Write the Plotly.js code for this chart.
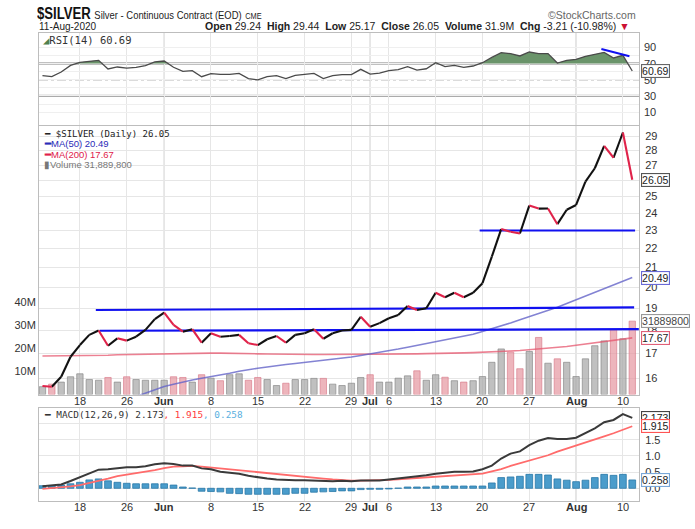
<!DOCTYPE html>
<html><head><meta charset="utf-8">
<script src="https://cdn.plot.ly/plotly-3.0.1.min.js"></script>
<style>
html,body{margin:0;padding:0;background:#fff}
#wrap{position:relative;width:695px;height:529px}
#chart{width:695px;height:529px}
#hdr{position:absolute;left:37px;top:4px;height:20px;line-height:20px;white-space:nowrap;transform:scaleX(0.82);transform-origin:0 0;font-family:'Liberation Sans',Arial,sans-serif;color:#111;z-index:5}
#hdr .t{font-weight:bold;font-size:16px}
#hdr .s{font-size:11.5px;color:#222}
#hdr .c{font-size:9px;color:#222}
</style>
</head><body><div id="wrap"><div id="chart"></div>
<div id="hdr"><span class="t">$SILVER</span> <span class="s">Silver - Continuous Contract (EOD)</span> <span class="c">CME</span></div></div>
<script>
// ---------------- DATA ----------------
const dates = [
 '2020-05-12','2020-05-13','2020-05-14','2020-05-15','2020-05-18','2020-05-19','2020-05-20','2020-05-21','2020-05-22','2020-05-26','2020-05-27','2020-05-28','2020-05-29',
 '2020-06-01','2020-06-02','2020-06-03','2020-06-04','2020-06-05','2020-06-08','2020-06-09','2020-06-10','2020-06-11','2020-06-12','2020-06-15','2020-06-16','2020-06-17','2020-06-18','2020-06-19','2020-06-22','2020-06-23','2020-06-24','2020-06-25','2020-06-26','2020-06-29','2020-06-30',
 '2020-07-01','2020-07-02','2020-07-06','2020-07-07','2020-07-08','2020-07-09','2020-07-10','2020-07-13','2020-07-14','2020-07-15','2020-07-16','2020-07-17','2020-07-20','2020-07-21','2020-07-22','2020-07-23','2020-07-24','2020-07-27','2020-07-28','2020-07-29','2020-07-30','2020-07-31',
 '2020-08-03','2020-08-04','2020-08-05','2020-08-06','2020-08-07','2020-08-10','2020-08-11'];
const closePrice = [15.70,15.67,16.06,16.87,17.36,17.80,17.99,17.33,17.65,17.55,17.72,18.02,18.50,
 18.80,18.24,17.94,18.05,17.46,17.87,17.72,17.75,17.80,17.44,17.36,17.61,17.75,17.46,17.80,17.87,18.05,17.63,17.87,17.99,18.02,18.61,
 18.16,18.32,18.54,18.69,19.11,18.92,19.00,19.74,19.52,19.74,19.52,19.74,20.21,21.57,23.08,22.93,22.83,24.45,24.27,24.28,23.36,24.20,
 24.49,25.94,26.80,28.31,27.50,29.26,26.05];
const volumeM = [3.4,4.5,5.4,7.7,9.0,6.5,6.2,7.4,5.4,7.7,6.5,6.2,6.2,
 6.2,7.7,7.4,5.4,8.6,7.1,6.0,8.6,9.0,6.2,7.4,6.5,3.9,4.9,6.5,6.5,7.0,7.0,4.5,3.9,4.9,7.4,
 8.6,5.4,5.4,7.1,8.1,10.3,6.2,8.6,7.5,6.0,5.4,6.0,7.8,14.0,19.8,18.4,11.2,18.7,24.8,13.6,15.5,14.0,
 7.8,15.5,21.2,23.3,28.1,24.2,31.89];
const ma50 = [null,null,null,null,null,null,null,null,null,null,15.30,15.42,15.56,
 15.68,15.77,15.86,15.93,16.00,16.06,16.13,16.20,16.28,16.35,16.40,16.45,16.51,16.55,16.59,16.63,16.67,16.71,16.75,16.80,16.86,16.92,
 16.98,17.05,17.11,17.19,17.27,17.35,17.43,17.51,17.59,17.67,17.75,17.83,17.95,18.07,18.20,18.33,18.47,18.61,18.74,18.88,19.05,19.22,
 19.40,19.57,19.74,19.92,20.10,20.30,20.49];
const ma200 = [16.90,16.90,16.91,16.91,16.92,16.92,16.93,16.93,16.95,16.96,16.97,16.98,16.99,
 17.00,17.00,17.01,17.01,17.02,17.02,17.02,17.02,17.01,17.00,16.99,16.98,16.97,16.97,16.96,16.96,16.96,16.96,16.96,16.96,16.96,16.96,
 16.97,16.97,16.97,16.98,16.98,16.99,17.00,17.00,17.01,17.02,17.03,17.04,17.05,17.07,17.09,17.11,17.13,17.16,17.19,17.22,17.26,17.30,
 17.35,17.40,17.46,17.51,17.56,17.62,17.67];
const rsi14 = [55.0,53.7,59.5,67.7,71.4,72.7,73.9,63.2,65.7,64.4,65.3,67.3,71.9,
 73.1,65.3,60.3,61.1,53.7,57.4,56.6,56.6,57.8,51.3,49.7,53.7,55.0,51.3,55.4,56.6,57.8,51.3,55.0,56.2,56.2,62.8,
 57.0,58.2,61.1,62.3,66.1,61.9,63.5,71.0,66.1,67.7,65.3,66.9,71.0,77.6,83.4,82.2,79.3,84.2,82.2,82.2,70.6,73.9,
 75.1,78.9,80.9,83.8,76.8,80.1,60.69];
const macdLine = [0.06,0.08,0.12,0.225,0.35,0.46,0.575,0.585,0.615,0.647,0.647,0.678,0.74,
 0.77,0.75,0.70,0.70,0.615,0.585,0.513,0.48,0.45,0.386,0.335,0.30,0.27,0.25,0.25,0.25,0.24,0.22,0.22,0.23,0.22,0.24,
 0.24,0.24,0.27,0.30,0.335,0.365,0.40,0.45,0.48,0.51,0.51,0.52,0.59,0.70,0.92,1.07,1.14,1.33,1.47,1.55,1.52,1.52,
 1.56,1.71,1.85,2.04,2.11,2.29,2.173];
const signalLine = [-0.02,0.00,0.02,0.06,0.10,0.16,0.22,0.30,0.375,0.42,0.46,0.51,0.56,
 0.62,0.67,0.68,0.69,0.67,0.64,0.62,0.60,0.57,0.54,0.50,0.47,0.44,0.41,0.385,0.36,0.33,0.30,0.275,0.25,0.24,0.24,
 0.24,0.25,0.26,0.28,0.30,0.32,0.335,0.355,0.375,0.39,0.41,0.43,0.45,0.52,0.59,0.69,0.77,0.85,0.93,1.02,1.13,1.22,
 1.31,1.40,1.49,1.60,1.70,1.81,1.915];
const histogram = [0.08,0.08,0.10,0.14,0.185,0.26,0.29,0.23,0.185,0.155,0.14,0.14,0.14,
 0.14,0.10,0.04,0.01,-0.09,-0.10,-0.11,-0.155,-0.165,-0.185,-0.185,-0.185,-0.185,-0.185,-0.155,-0.155,-0.12,-0.11,-0.10,-0.08,-0.08,-0.04,
 -0.03,-0.03,-0.02,0.005,0.04,0.04,0.04,0.07,0.07,0.07,0.07,0.07,0.07,0.165,0.33,0.35,0.37,0.43,0.43,0.41,0.29,0.25,
 0.205,0.25,0.33,0.43,0.40,0.43,0.258];
const tickDates  = ['2020-05-18','2020-05-26','2020-06-01','2020-06-08','2020-06-15','2020-06-22','2020-06-29','2020-07-01','2020-07-06','2020-07-13','2020-07-20','2020-07-27','2020-08-03','2020-08-10'];
const tickLabels = ['18','26','<b>Jun</b>','8','15','22','29','<b>Jul</b>','6','13','20','27','<b>Aug</b>','10'];
const monthStarts = ['2020-06-01','2020-07-01','2020-08-03'];
const priceTicks = [16,17,18,19,20,21,22,23,24,25,26,27,28,29];
const volTicks = [10,20,30,40];
const rsiTicks = [10,20,30,40,50,60,70,80,90];
const rsiLabelVals = [10,30,50,70,90];
const macdTicks = [0,0.5,1.0,1.5,2.0];
const macdLabels = ['0.0','0.5','1.0','1.5',''];
// drawn support lines (start index, start price, end index, end price)
const trendX0 = [5.7, 6.1, 46.7];
const trendY0 = [18.92, 17.98, 23.0];
const trendX1 = [63.2, 63.7, 63.3];
const trendY1 = [19.04, 18.05, 23.0];
const rsiTrendX = [59.7, 62.7];
const rsiTrendY = [88.0, 79.0];
const last = {close:26.05, ma50:20.49, ma200:17.67, vol:31.8898, rsi:60.69, macd:2.173, sig:1.915, hist:0.258};

// ---------------- BUILD ----------------
const W=695,H=529;
const fx = p => p/W, fy = p => 1-p/H;
const xi = dates.map((d,i)=>i);
const idx = d => dates.indexOf(d);
const tickIdx = tickDates.map(idx);
const XD=[fx(39),fx(639)];
const XR=[-0.37,63.72];

const bx=[],by=[],rx=[],ry=[];
for(let i=1;i<closePrice.length;i++){
  const up = closePrice[i]>=closePrice[i-1];
  const X = up?bx:rx, Y = up?by:ry;
  X.push(xi[i-1],xi[i],null); Y.push(closePrice[i-1],closePrice[i],null);
}
const isDown = i => i>0 && closePrice[i]<closePrice[i-1];
const volColors = volumeM.map((v,i)=> isDown(i) ? 'rgba(230,150,160,0.7)' : 'rgba(165,165,165,0.7)');
const volLines = volumeM.map((v,i)=> isDown(i) ? 'rgba(215,120,135,0.8)' : 'rgba(130,130,130,0.8)');

function clipAbove(xs,ys,lvl){
  const px=[],py=[];
  for(let i=0;i<ys.length;i++){
    if(i>0 && (ys[i-1]-lvl)*(ys[i]-lvl)<0){
      const t=(lvl-ys[i-1])/(ys[i]-ys[i-1]);
      px.push(xs[i-1]+t*(xs[i]-xs[i-1])); py.push(lvl);
    }
    px.push(xs[i]); py.push(Math.max(ys[i],lvl));
  }
  px.push(xs[xs.length-1],xs[0]); py.push(lvl,lvl);
  return {px,py};
}
const rf = clipAbove(xi,rsi14,70);

const traces = [
  {type:'bar',x:xi,y:volumeM,xaxis:'x',yaxis:'y',width:0.68,marker:{color:volColors,line:{color:volLines,width:0.8}}},
  {type:'scatter',mode:'lines',x:xi,y:ma200,xaxis:'x',yaxis:'y2',line:{color:'rgba(230,85,110,0.75)',width:1.6}},
  {type:'scatter',mode:'lines',x:xi,y:ma50,xaxis:'x',yaxis:'y2',line:{color:'rgba(100,100,200,0.8)',width:1.6}},
];
for(let k=0;k<trendX0.length;k++){
  traces.push({type:'scatter',mode:'lines',x:[trendX0[k],trendX1[k]],y:[trendY0[k],trendY1[k]],xaxis:'x',yaxis:'y2',line:{color:'#1010f0',width:2.2}});
}
traces.push(
  {type:'scatter',mode:'lines',x:bx,y:by,xaxis:'x',yaxis:'y2',line:{color:'#111',width:2.1},connectgaps:false},
  {type:'scatter',mode:'lines',x:rx,y:ry,xaxis:'x',yaxis:'y2',line:{color:'#e0234a',width:2.1},connectgaps:false},
  {type:'scatter',mode:'lines',x:rf.px,y:rf.py,xaxis:'x2',yaxis:'y3',fill:'toself',fillcolor:'#6a946a',line:{width:0,color:'rgba(0,0,0,0)'}},
  {type:'scatter',mode:'lines',x:xi,y:rsi14,xaxis:'x2',yaxis:'y3',line:{color:'#4a4a4a',width:1.3}},
  {type:'scatter',mode:'lines',x:rsiTrendX,y:rsiTrendY,xaxis:'x2',yaxis:'y3',line:{color:'#1010f0',width:2}},
  {type:'bar',x:xi,y:histogram,xaxis:'x3',yaxis:'y4',width:0.72,marker:{color:'#4a9ccb',line:{color:'#2a78a8',width:0.8}}},
  {type:'scatter',mode:'lines',x:xi,y:signalLine,xaxis:'x3',yaxis:'y4',line:{color:'#ff6b6b',width:1.8}},
  {type:'scatter',mode:'lines',x:xi,y:macdLine,xaxis:'x3',yaxis:'y4',line:{color:'#3a3a3a',width:2}}
);

const GRID='#e6e6e6', BORDER='#bdbdbd';
const sans='Liberation Sans, Arial, sans-serif';
const mono='DejaVu Sans Mono, Liberation Mono, monospace';
const tf = {family:sans,size:11,color:'#333'};
const xbase = {range:XR,domain:XD,tickmode:'array',tickvals:tickIdx,ticktext:tickLabels,showticklabels:false,showgrid:true,gridcolor:GRID,zeroline:false,showline:true,mirror:true,linecolor:BORDER,ticks:'',tickfont:tf,fixedrange:true};
const ybase = {showline:true,mirror:true,linecolor:BORDER,zeroline:false,ticks:'',tickfont:tf,gridcolor:GRID,fixedrange:true};

const shapes=[];
monthStarts.map(idx).forEach(m=>{
  [['x','y domain'],['x2','y3 domain'],['x3','y4 domain']].forEach(([xr,yr])=>{
    shapes.push({type:'line',xref:xr,yref:yr,x0:m,x1:m,y0:0,y1:1,line:{color:'#c2c2c2',width:1},layer:'below'});
  });
});
[[70,'#ababab',2.4,'solid'],[30,'#ababab',2.4,'solid'],[50,'#b8b8b8',1.4,'dashdot']].forEach(([v,c,w,d])=>{
  shapes.push({type:'line',xref:'paper',yref:'y3',x0:XD[0],x1:XD[1],y0:v,y1:v,line:{color:c,width:w,dash:d},layer:'below'});
});

function txt(x,y,text,font,xanchor){return {xref:'paper',yref:'paper',x:fx(x),y:fy(y),text,showarrow:false,xanchor:xanchor||'left',yanchor:'middle',font};}
function box(yref,y,text,border,color){return {xref:'paper',yref,x:fx(641),y,text,showarrow:false,xanchor:'left',yanchor:'middle',bgcolor:'#fff',bordercolor:border,borderwidth:1.1,borderpad:0,font:{family:sans,size:10.5,color:color||'#222'}};}

const annotations=[
  txt(638,15,'©StockCharts.com',{family:sans,size:10.5,color:'#666'},'right'),
  txt(37,26,'11-Aug-2020',{family:sans,size:10,color:'#222'}),
  txt(632,26,'<b>Open</b> 29.24  <b>High</b> 29.44  <b>Low</b> 25.17  <b>Close</b> 26.05  <b>Volume</b> 31.9M  <b>Chg</b> -3.21 (-10.98%) <span style="color:#cc1133">▼</span>',{family:sans,size:10.5,color:'#222'},'right'),
  txt(41,40,'<span style="color:#4f7f4f">◢</span>RSI(14) 60.69',{family:mono,size:10.5,color:'#333'}),
  txt(42,133.5,'<b>━</b> $SILVER (Daily) 26.05',{family:mono,size:9,color:'#222'}),
  txt(42,144,'<b>━</b>MA(50) 20.49',{family:sans,size:9.5,color:'#2b2bb8'}),
  txt(42,154,'<b>━</b>MA(200) 17.67',{family:sans,size:9.5,color:'#e0204a'}),
  txt(42,164,'▮Volume 31,889,800',{family:sans,size:9.5,color:'#777'}),
  txt(42,414,'<b>━</b> MACD(12,26,9) 2.173<span style="color:#ff3b3b">, 1.915</span><span style="color:#5ab0e0">, 0.258</span>',{family:mono,size:9.4,color:'#333'})
];
[400.5,507].forEach(py=>{
  tickIdx.forEach((t,k)=>annotations.push({xref:'x',yref:'paper',x:t,y:fy(py),text:tickLabels[k],showarrow:false,xanchor:'center',yanchor:'middle',font:tf}));
});
rsiLabelVals.forEach(v=>annotations.push({xref:'paper',yref:'y3',x:fx(642),y:v,text:String(v),showarrow:false,xanchor:'left',yanchor:'middle',font:tf}));
annotations.push(
  box('y2',Math.log10(last.close),'26.05','#555'),
  box('y2',Math.log10(last.ma50),'20.49','#6a6ad6'),
  box('y2',Math.log10(last.ma200),'17.67','#e06078'),
  box('y',last.vol,'31889800','#999','#444'),
  box('y3',last.rsi,'60.69','#666'),
  box('y4',last.macd,'2.173','#444'),
  box('y4',last.sig,'1.915','#ff5555'),
  box('y4',last.hist,'0.258','#7aa8d8')
);

const layout = {
  width:W,height:H,margin:{l:0,r:0,t:0,b:0},paper_bgcolor:'#fff',plot_bgcolor:'#fff',showlegend:false,
  bargap:0,hovermode:false,
  xaxis:Object.assign({},xbase,{anchor:'y'}),
  xaxis2:Object.assign({},xbase,{anchor:'y3',matches:'x'}),
  xaxis3:Object.assign({},xbase,{anchor:'y4',matches:'x'}),
  yaxis:Object.assign({},ybase,{domain:[fy(394.5),fy(126)],range:[0,116.7],side:'left',tickmode:'array',tickvals:volTicks,ticktext:volTicks.map(v=>v+'M'),showgrid:false,anchor:'x'}),
  yaxis2:Object.assign({},ybase,{overlaying:'y',side:'right',type:'log',range:[Math.log10(15.375),Math.log10(29.73)],tickmode:'array',tickvals:priceTicks,ticktext:priceTicks.map(v=>v==26?'':String(v)),showgrid:true,anchor:'x',ticklabelstandoff:3}),
  yaxis3:Object.assign({},ybase,{domain:[fy(125),fy(33)],range:[-5.93,107.65],side:'right',tickmode:'array',tickvals:rsiTicks,showticklabels:false,showgrid:true,gridcolor:'#efefef',anchor:'x2'}),
  yaxis4:Object.assign({},ybase,{domain:[fy(501),fy(407.7)],range:[-0.392,2.488],side:'right',tickmode:'array',tickvals:macdTicks,ticktext:macdLabels,showgrid:true,anchor:'x3',ticklabelstandoff:3}),
  shapes,annotations
};
Plotly.newPlot('chart',traces,layout,{displayModeBar:false,staticPlot:true});
</script></body></html>
